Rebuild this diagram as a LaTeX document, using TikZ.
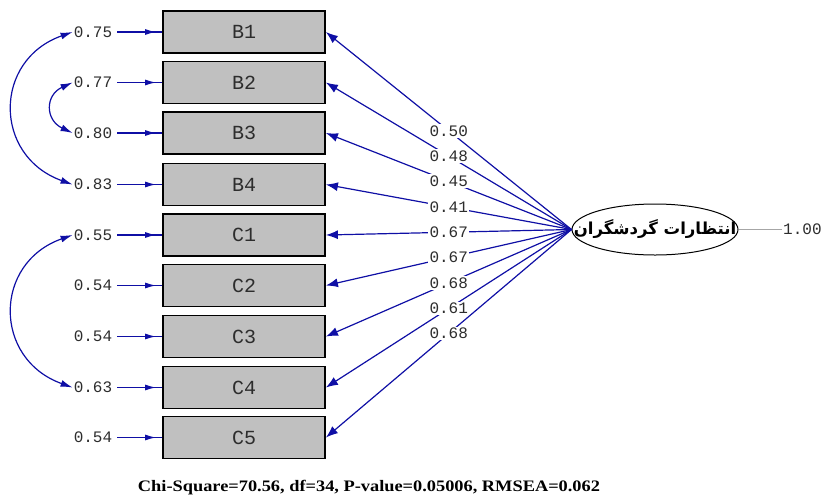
\documentclass[tikz,border=0pt]{standalone}
\usepackage{fontspec}
\setmainfont{Liberation Serif}
\setmonofont{Liberation Mono}
\newfontfamily\arabicfont[Script=Arabic]{DejaVu Sans}
\usetikzlibrary{arrows.meta,calc,shapes.geometric}
\TeXXeTstate=1
\definecolor{pathblue}{RGB}{15,15,165}
\definecolor{boxgray}{RGB}{192,192,192}
\definecolor{txtgray}{RGB}{45,45,45}

\begin{document}
\begin{tikzpicture}[x=1pt,y=-1pt,
  obs/.style={draw=black, line width=1.8pt, fill=boxgray, minimum width=162pt,
    minimum height=42pt, inner sep=0pt, text=txtgray,
    font=\ttfamily\fontsize{20}{20}\selectfont},
  errlab/.style={font=\ttfamily\fontsize{16}{16}\selectfont, text=txtgray, inner sep=1pt},
  loadlab/.style={errlab, fill=white, inner sep=1.5pt},
  bluepath/.style={draw=pathblue, line width=1.2pt},
  tipend/.style={-{Latex[length=12pt,width=9pt]}},
  smalltip/.style={-{Latex[length=11pt,width=6pt]}},
  tipboth/.style={{Latex[length=12pt,width=7pt]}-{Latex[length=12pt,width=7pt]}},
]
\useasboundingbox (0,0) rectangle (824,499);

% observed indicators
\foreach \nm/\y in {B1/32, B2/82.5, B3/133, B4/184.5, C1/235, C2/285.5, C3/336.5, C4/387.5, C5/437.5}{
  \node[obs] (\nm) at (244,\y) {\nm};
}

% error variances
\foreach \nm/\y/\v in {B1/32/0.75, B2/82.5/0.77, B3/133/0.80, B4/184.5/0.83, C1/235/0.55, C2/285.5/0.54, C3/336.5/0.54, C4/387.5/0.63, C5/437.5/0.54}{
  \node[errlab] (e\nm) at (93,\y) {\v};
  \draw[bluepath] (e\nm.east) ++(4,0) -- (\nm.west);
  \draw[bluepath, smalltip, shorten >=6pt] (e\nm.east) ++(4,0) -- (\nm.west);
}

% error covariances
\draw[bluepath, tipboth] (eB1.west) .. controls (-7,60) and (-7,156) .. (eB4.west);
\draw[bluepath, tipboth] (eB2.west) .. controls (45,95) and (45,120) .. (eB3.west);
\draw[bluepath, tipboth] (eC1.west) .. controls (-7,263) and (-7,359) .. (eC4.west);

% latent variable
\node[ellipse, draw=black, line width=1pt, minimum width=166pt, minimum height=51pt,
  inner xsep=-30pt, inner ysep=0pt] (L) at (655,229.5)
  {\arabicfont\bfseries\fontsize{16.5}{16.5}\selectfont\beginR انتظارات گردشگران\endR};

% factor variance
\coordinate (vr) at (782,229.5);
\draw[gray!70, line width=0.8pt] (L.east) -- (vr);
\node[errlab, anchor=west] (v1) at (vr) {1.00};

% factor loadings
\foreach \nm/\v in {B1/0.50, B2/0.48, B3/0.45, B4/0.41, C1/0.67, C2/0.67, C3/0.68, C4/0.61, C5/0.68}{
  \draw[bluepath, tipend] (L.west) -- node[loadlab] {\v} (\nm.east);
}

% fit statistics
\node[font=\bfseries\fontsize{16}{16}\selectfont, text=black] (fit) at (369,488)
  {\resizebox{462pt}{\height}{Chi-Square=70.56, df=34, P-value=0.05006, RMSEA=0.062}};
\end{tikzpicture}
\end{document}
